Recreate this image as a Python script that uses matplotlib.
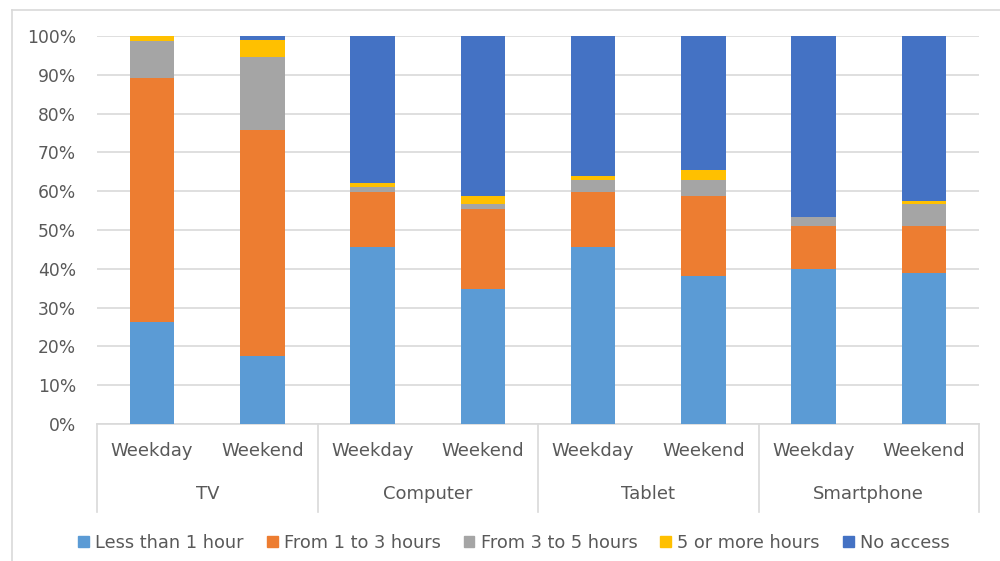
import numpy as np
import matplotlib.pyplot as plt
from matplotlib.patches import Patch
import matplotlib.transforms as mtransforms

# data (percent of children)
devices = ["TV", "Computer", "Tablet", "Smartphone"]
days = ["Weekday", "Weekend"]
series = ["Less than 1 hour", "From 1 to 3 hours", "From 3 to 5 hours",
          "5 or more hours", "No access"]
less_1h = [26.3, 17.5, 45.7, 34.7, 45.7, 38.1, 40.0, 39.0]
h1_3 = [63.0, 58.4, 14.0, 20.6, 14.0, 20.6, 11.0, 12.0]
h3_5 = [9.5, 18.6, 1.3, 1.5, 3.3, 4.3, 2.4, 5.8]
h5_plus = [1.2, 4.4, 1.0, 1.9, 1.0, 2.4, 0.0, 0.8]
no_access = [0.0, 1.1, 38.0, 41.3, 36.0, 34.6, 46.6, 42.4]
yticks = [0, 10, 20, 30, 40, 50, 60, 70, 80, 90, 100]

colors = ["#5B9BD5", "#ED7D31", "#A5A5A5", "#FFC000", "#4472C4"]
txt = "#595959"
grid = "#D9D9D9"

plt.rcParams['font.family'] = ['DejaVu Sans']

fig = plt.figure(figsize=(10, 5.61), dpi=100)
ax = fig.add_axes([0.097, 0.2442, 0.882, 0.6916])

x = np.arange(len(devices) * len(days))
bottom = np.zeros(len(x))
for vals, c in zip([less_1h, h1_3, h3_5, h5_plus, no_access], colors):
    ax.bar(x, vals, 0.405, bottom=bottom, color=c, zorder=3)
    bottom += np.array(vals)

ax.set_xlim(-0.5, len(x) - 0.5)
ax.set_ylim(0, 100)
ax.set_yticks(yticks)
ax.set_yticklabels(["%d%%" % v for v in yticks], color=txt, fontsize=12.3)
ax.tick_params(axis='y', length=0, pad=15)
ax.tick_params(axis='x', length=0, labelbottom=False)
ax.yaxis.grid(True, color=grid, linewidth=1.2, zorder=0)
for s in ["top", "right", "left"]:
    ax.spines[s].set_visible(False)
ax.spines["bottom"].set_color(grid)
ax.spines["bottom"].set_linewidth(1.2)

# two-level category axis
trans = mtransforms.blended_transform_factory(ax.transData, ax.transAxes)
for i in range(len(devices) + 1):
    xs = i * 2 - 0.5
    ax.plot([xs, xs], [0, -0.226], transform=trans, color=grid,
            linewidth=1.2, clip_on=False)
for i, d in enumerate(devices):
    for j, day in enumerate(days):
        ax.text(i * 2 + j, -0.07, day, transform=trans, ha='center',
                va='center', color=txt, fontsize=13)
    ax.text(i * 2 + 0.5, -0.18, d, transform=trans, ha='center',
            va='center', color=txt, fontsize=13)

handles = [Patch(color=c, label=s) for c, s in zip(colors, series)]
fig.legend(handles=handles, loc='center', bbox_to_anchor=(0.514, 0.032),
           ncol=5, frameon=False, fontsize=12.8, handlelength=0.6,
           handleheight=0.6, handletextpad=0.35, columnspacing=1.3,
           labelcolor=txt)

# outer chart border (left and top edges visible in reference)
fig.add_artist(plt.Line2D([0.012, 0.012], [0, 1 - 10 / 561],
                          color=grid, linewidth=1.2))
fig.add_artist(plt.Line2D([0.012, 1], [1 - 10 / 561, 1 - 10 / 561],
                          color=grid, linewidth=1.2))

fig.savefig("out.png", dpi=100)
